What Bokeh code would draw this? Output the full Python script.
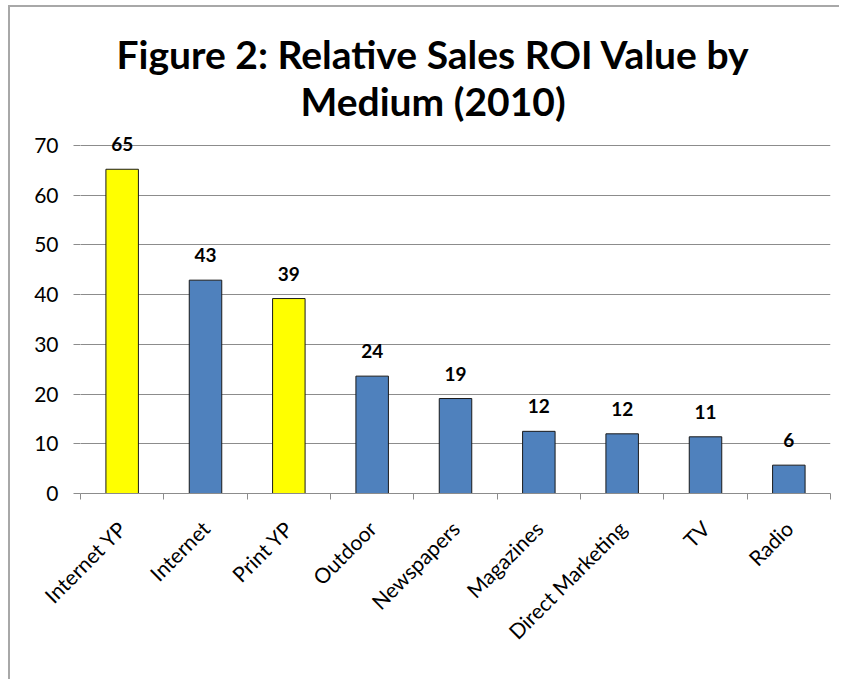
import math
from bokeh.plotting import figure
from bokeh.layouts import column, row
from bokeh.models import Range1d, FixedTicker, Title, ColumnDataSource, LabelSet, Spacer
from bokeh.core.properties import value
from bokeh.embed import file_html
from bokeh.resources import INLINE

categories = ["Internet YP", "Internet", "Print YP", "Outdoor", "Newspapers",
              "Magazines", "Direct Marketing", "TV", "Radio"]
values = [65.2, 42.9, 39.2, 23.6, 19.1, 12.5, 12.0, 11.4, 5.7]
value_labels = ["65", "43", "39", "24", "19", "12", "12", "11", "6"]
highlight = [True, False, True, False, False, False, False, False, False]
y_ticks = [0, 10, 20, 30, 40, 50, 60, 70]

YELLOW = "#FFFF00"
BLUE = "#4F81BD"
FONT = "Lato"

xs = list(range(len(categories)))
colors = [YELLOW if h else BLUE for h in highlight]
src = ColumnDataSource(dict(x=xs, top=values, color=colors, lab=value_labels))

p = figure(width=831, height=674, output_backend="svg", toolbar_location=None,
           x_range=Range1d(-0.5, len(categories) - 0.5), y_range=Range1d(0, 74),
           min_border_left=70, min_border_right=11, min_border_top=118,
           min_border_bottom=188, background_fill_color="white",
           border_fill_color="white", outline_line_color=None)
p.styles = {"border-left": "2px solid #a8a8a8", "border-top": "2px solid #a8a8a8"}

p.add_layout(Title(text="Medium (2010)", text_font=FONT, text_font_size="39px",
                   text_font_style="bold", align="left", offset=220,
                   text_color="black", standoff=4), "above")
p.add_layout(Title(text="Figure 2: Relative Sales ROI Value by", text_font=FONT,
                   text_font_size="39px", text_font_style="bold", align="left",
                   offset=36, text_color="black", standoff=-7), "above")

p.vbar(x="x", top="top", width=0.39, fill_color="color", line_color="#1a1a1a",
       line_width=1, source=src)

labels = LabelSet(x="x", y="top", text="lab", source=src, text_align="center",
                  text_baseline="alphabetic", y_offset=18, text_font=value(FONT),
                  text_font_size=value("19px"), text_font_style="bold",
                  text_color="black")
p.add_layout(labels)

# grid
p.xgrid.grid_line_color = None
p.ygrid.grid_line_color = "#8c8c8c"
p.ygrid.grid_line_width = 1
p.ygrid.ticker = FixedTicker(ticks=y_ticks)

# y axis
p.yaxis.ticker = FixedTicker(ticks=y_ticks)
p.yaxis.axis_line_color = None
p.yaxis.major_tick_line_color = "#8c8c8c"
p.yaxis.major_tick_out = 7
p.yaxis.major_tick_in = 0
p.yaxis.minor_tick_line_color = None
p.yaxis.major_label_text_font = FONT
p.yaxis.major_label_text_font_size = "21px"
p.yaxis.major_label_text_color = "black"
p.yaxis.major_label_standoff = 15

# x axis
p.xaxis.ticker = FixedTicker(ticks=xs, minor_ticks=[i - 0.5 for i in range(len(categories) + 1)])
p.xaxis.major_label_overrides = {i: c for i, c in zip(xs, categories)}
p.xaxis.axis_line_color = "#8c8c8c"
p.xaxis.major_tick_line_color = None
p.xaxis.minor_tick_line_color = "#8c8c8c"
p.xaxis.minor_tick_out = 6
p.xaxis.minor_tick_in = 0
p.xaxis.major_label_orientation = math.pi / 4
p.xaxis.major_label_text_font = FONT
p.xaxis.major_label_text_font_size = "21px"
p.xaxis.major_label_text_color = "black"
p.xaxis.major_label_standoff = 25

layout = column(Spacer(height=5), row(Spacer(width=8), p))

with open("out.html", "w") as f:
    f.write(file_html(layout, INLINE))
